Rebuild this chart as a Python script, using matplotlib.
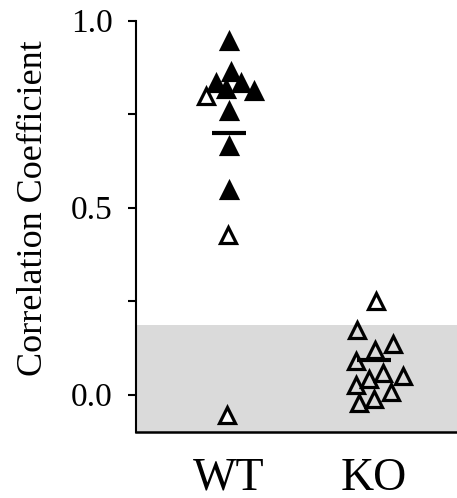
import matplotlib.pyplot as plt

plt.rcParams['font.family'] = ['Liberation Serif', 'DejaVu Serif']

groups = ['WT', 'KO']
group_pos = [1, 2]

# WT values, horizontal jitter and filled/open state
wt_vals = [0.944, 0.862, 0.834, 0.833, 0.816, 0.812, 0.797, 0.757, 0.664, 0.547, 0.426, -0.055]
wt_dx = [0.0, 0.014, -0.09, 0.083, -0.021, 0.172, -0.155, 0.0, 0.0, 0.0, -0.007, -0.014]
wt_filled = [True, True, True, True, True, True, False, True, True, True, False, False]

# KO values (all open)
ko_vals = [0.250, 0.172, 0.135, 0.119, 0.089, 0.025, 0.041, 0.057, 0.049, 0.007, -0.023, -0.013]
ko_dx = [0.017, -0.114, 0.128, 0.007, -0.121, -0.121, -0.038, 0.059, 0.197, 0.114, -0.107, -0.003]

means = [0.70, 0.093]
shade_top = 0.187

fig = plt.figure(figsize=(4.57, 4.98), dpi=100)
ax = fig.add_axes([136 / 457, 66 / 498, 321 / 457, 411.5 / 498])

ax.axhspan(-0.1, shade_top, color='#dadada', zorder=0, lw=0)

for v, dx, f in zip(wt_vals, wt_dx, wt_filled):
    ax.plot(group_pos[0] + dx, v, marker='^', markersize=11.5, markeredgewidth=2.3,
            markeredgecolor='black', markerfacecolor='black' if f else 'white',
            linestyle='none', zorder=3)

for v, dx in zip(ko_vals, ko_dx):
    ax.plot(group_pos[1] + dx, v, marker='^', markersize=11.5, markeredgewidth=2.3,
            markeredgecolor='black', markerfacecolor='none',
            linestyle='none', zorder=3)

half = 0.117
for p, m in zip(group_pos, means):
    ax.plot([p - half, p + half], [m, m], color='black', lw=3, zorder=4,
            solid_capstyle='butt')

ax.set_xlim(0.359, 2.572)
ax.set_ylim(-0.1, 1.0)

ax.spines['top'].set_visible(False)
ax.spines['right'].set_visible(False)
ax.spines['left'].set_linewidth(1.5)
ax.spines['bottom'].set_linewidth(1.8)

ax.set_yticks([0.0, 0.5, 1.0])
ax.set_yticklabels(['0.0', '0.5', '1.0'])
ax.set_yticks([0.25, 0.75], minor=True)
ax.tick_params(axis='y', which='both', direction='out', length=6, width=1.5,
               labelsize=24, pad=11)

ax.set_xticks(group_pos)
ax.set_xticklabels(groups)
ax.tick_params(axis='x', length=0, labelsize=33, pad=18)

fig.text(33.5 / 457, 1 - 208 / 498, 'Correlation Coefficient', rotation=90,
         ha='center', va='center', fontsize=26)

fig.savefig('out.png', dpi=100)
